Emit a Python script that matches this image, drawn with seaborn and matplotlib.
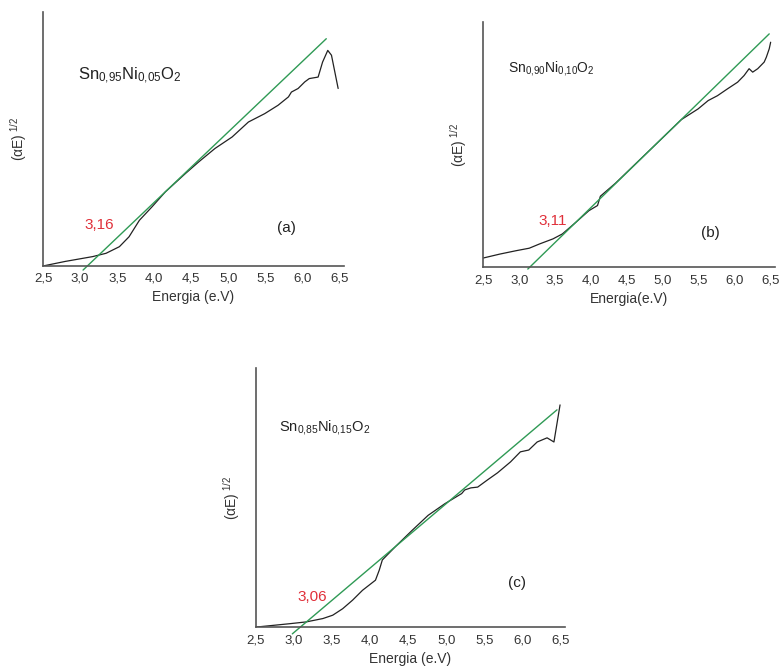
import numpy as np
import pandas as pd
import seaborn as sns
import matplotlib
matplotlib.use("Agg")
import matplotlib.pyplot as plt
from matplotlib.ticker import MultipleLocator

# --- data (y in arbitrary units, axis top = 1) ---
a_E = [2.50, 2.80, 3.17, 3.35, 3.53, 3.66, 3.80, 3.97, 4.15, 4.42, 4.60, 4.82, 5.05,
       5.27, 5.49, 5.67, 5.81, 5.85, 5.94, 6.03, 6.09, 6.21, 6.27, 6.34, 6.39, 6.48]
a_y = [0.000, 0.018, 0.037, 0.050, 0.076, 0.115, 0.180, 0.233, 0.292, 0.364, 0.410,
       0.463, 0.508, 0.567, 0.600, 0.633, 0.666, 0.685, 0.699, 0.725, 0.738, 0.744,
       0.803, 0.849, 0.830, 0.699]
a_fit_E = [3.04, 6.32]
a_fit_y = [-0.016, 0.895]

b_E = [2.50, 2.73, 2.96, 3.14, 3.28, 3.47, 3.60, 3.79, 3.97, 4.09, 4.13, 4.34, 4.57,
       4.80, 5.03, 5.26, 5.49, 5.63, 5.76, 5.90, 6.04, 6.13, 6.20, 6.25, 6.32, 6.41,
       6.44, 6.48, 6.50]
b_y = [0.038, 0.054, 0.068, 0.078, 0.095, 0.116, 0.136, 0.184, 0.231, 0.252, 0.290,
       0.343, 0.408, 0.473, 0.538, 0.603, 0.646, 0.680, 0.700, 0.728, 0.755, 0.782,
       0.810, 0.796, 0.810, 0.837, 0.857, 0.891, 0.918]
b_fit_E = [3.12, 6.48]
b_fit_y = [-0.007, 0.952]

c_E = [2.50, 2.94, 3.16, 3.38, 3.51, 3.64, 3.77, 3.90, 4.07, 4.12, 4.16, 4.33, 4.55,
       4.76, 4.98, 5.20, 5.24, 5.32, 5.41, 5.54, 5.67, 5.84, 5.97, 6.08, 6.19, 6.32,
       6.41, 6.49]
c_y = [0.000, 0.013, 0.020, 0.033, 0.046, 0.071, 0.104, 0.142, 0.181, 0.220, 0.259,
       0.310, 0.373, 0.431, 0.476, 0.515, 0.529, 0.537, 0.540, 0.568, 0.595, 0.637,
       0.676, 0.683, 0.714, 0.730, 0.714, 0.857]
c_fit_E = [2.98, 6.45]
c_fit_y = [-0.026, 0.838]

compositions = [r"Sn$_{0{,}95}$Ni$_{0{,}05}$O$_2$",
                r"Sn$_{0{,}90}$Ni$_{0{,}10}$O$_2$",
                r"Sn$_{0{,}85}$Ni$_{0{,}15}$O$_2$"]
gaps = ["3,16", "3,11", "3,06"]
letters = ["(a)", "(b)", "(c)"]
xlabels = ["Energia (e.V)", "Energia(e.V)", "Energia (e.V)"]

sns.set_style("white")
plt.rcParams['font.family'] = ['Liberation Sans', 'DejaVu Sans']
plt.rcParams['mathtext.fontset'] = 'custom'
plt.rcParams['mathtext.rm'] = 'Liberation Sans'
plt.rcParams['mathtext.it'] = 'Liberation Sans'

fig = plt.figure(figsize=(7.82, 6.70), dpi=100)
axes = [fig.add_axes([0.055, 0.603, 0.385, 0.379]),
        fig.add_axes([0.618, 0.601, 0.373, 0.366]),
        fig.add_axes([0.327, 0.064, 0.396, 0.387])]

green = "#2f9a55"
curves = [(a_E, a_y, a_fit_E, a_fit_y), (b_E, b_y, b_fit_E, b_fit_y), (c_E, c_y, c_fit_E, c_fit_y)]
# text positions (data coords) per panel
comp_pos = [(2.97, 0.75), (2.84, 0.81), (2.81, 0.77)]
gap_pos = [(3.26, 0.16), (3.47, 0.19), (3.24, 0.116)]
let_pos = [(5.78, 0.15), (5.66, 0.14), (5.93, 0.17)]
comp_size = [12, 10, 10.5]

for i, ax in enumerate(axes):
    E, y, fE, fy = curves[i]
    df = pd.DataFrame({"E": E, "y": y})
    sns.lineplot(data=df, x="E", y="y", ax=ax, color="#222222", lw=0.9, sort=False)
    ax.plot(fE, fy, color=green, lw=1.0, clip_on=False)
    ax.set_xlim(2.5, 6.56)
    ax.set_ylim(0, 1)
    ax.xaxis.set_major_locator(MultipleLocator(0.5))
    ax.xaxis.set_minor_locator(MultipleLocator(0.25))
    ax.xaxis.set_major_formatter(matplotlib.ticker.FuncFormatter(
        lambda v, p: ("%.1f" % v).replace(".", ",")))
    ax.tick_params(axis="x", which="major", direction="in", length=4, width=0.8,
                   labelsize=9.5, colors="#333333", pad=5)
    ax.tick_params(axis="x", which="minor", direction="in", length=2, width=0.6, colors="#333333")
    ax.set_yticks([])
    for s in ["top", "right"]:
        ax.spines[s].set_visible(False)
    for s in ["left", "bottom"]:
        ax.spines[s].set_color("#555555")
        ax.spines[s].set_linewidth(1.2)
    ax.set_xlabel(xlabels[i], fontsize=10, color="#333333", labelpad=4)
    ax.set_ylabel(r"($\alpha$E)$^{\ 1/2}$", fontsize=10, color="#333333", labelpad=10)
    ax.text(*comp_pos[i], compositions[i], fontsize=comp_size[i], color="#222222",
            va="center", ha="left")
    ax.text(*gap_pos[i], gaps[i], fontsize=11, color="#e0303a", va="center", ha="center")
    ax.text(*let_pos[i], letters[i], fontsize=11, color="#222222", va="center", ha="center")

fig.savefig("out.png", dpi=100)
